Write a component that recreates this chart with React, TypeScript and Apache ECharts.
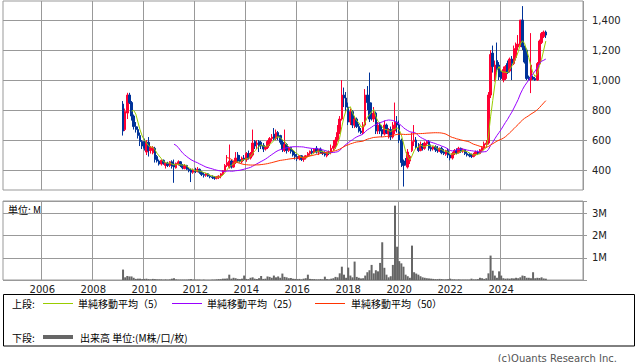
import React, { useEffect, useRef } from "react";
import * as echarts from "echarts";

// ---- axis frame ----
const START_YEAR = 2004;
const START_MONTH = 7; // first category: 2004/07
const MONTH_COUNT = 273; // through 2027/03
const DATA_OFFSET = 56; // first candle: 2009/03

const priceTicks = [400, 600, 800, 1000, 1200, 1400];
const volumeTicks = [1, 2, 3];
const yearLabels = [2006, 2008, 2010, 2012, 2014, 2016, 2018, 2020, 2022, 2024];

// ---- monthly OHLC (2009/03 .. 2025/10) ----
const opens = [
  840, 670, 780, 900, 850, 760, 690, 670, 630, 590,
  590, 520, 585, 530, 515, 545, 490, 460, 440, 465, 430, 445,
  430, 455, 440, 415, 440, 455, 430, 410, 430, 405, 400, 385,
  400, 390, 405, 385, 370, 365, 375, 360, 355, 350, 345, 350,
  360, 375, 395, 430, 420, 460, 420, 450, 500, 470, 455, 480,
  470, 510, 480, 500, 590, 570, 590, 585, 565, 540, 550, 580,
  610, 640, 610, 650, 630, 585, 530, 570, 530, 550, 530, 505,
  490, 475, 495, 470, 480, 495, 510, 525, 515, 545, 520, 540,
  520, 510, 495, 515, 515, 545, 560, 600, 650, 740, 900, 880,
  820, 720, 790, 700, 740, 690, 660, 650, 700, 900, 850, 760,
  740, 780, 660, 700, 670, 640, 700, 640, 670, 620, 660, 720,
  700, 600, 450, 460, 420, 460, 530, 590, 600, 550, 530, 570,
  545, 575, 590, 550, 540, 555, 540, 525, 545, 520, 505, 530,
  500, 480, 510, 530, 515, 545, 525, 535, 510, 505, 500, 490,
  505, 520, 510, 530, 545, 570, 580, 900, 1180, 1000, 1130, 1100,
  1060, 1000, 1010, 1110, 1060, 1140, 1110, 1150, 1220, 1230, 1400, 1220,
  1200, 1020, 1000, 1020, 1010, 1000, 1110, 1250, 1290, 1320,
];
const highs = [
  860, 810, 915, 915, 860, 770, 720, 690, 650, 600,
  610, 600, 620, 560, 560, 555, 500, 470, 470, 470, 450, 455,
  460, 465, 470, 450, 465, 460, 440, 440, 435, 415, 410, 410,
  415, 420, 410, 395, 385, 380, 380, 370, 365, 360, 360, 365,
  380, 400, 440, 500, 570, 470, 460, 520, 520, 500, 490, 500,
  520, 530, 520, 670, 600, 600, 600, 595, 580, 560, 600, 620,
  640, 680, 670, 660, 635, 600, 670, 580, 560, 555, 540, 520,
  510, 500, 500, 490, 500, 520, 530, 540, 545, 560, 540, 550,
  530, 525, 520, 530, 570, 600, 620, 700, 760, 1000, 950, 920,
  850, 810, 800, 760, 750, 710, 680, 720, 940, 960, 1050, 850,
  820, 790, 720, 720, 700, 730, 710, 680, 690, 720, 850, 760,
  730, 610, 470, 480, 540, 500, 650, 700, 620, 580, 590, 580,
  590, 600, 600, 570, 560, 565, 560, 550, 555, 540, 535, 545,
  510, 520, 540, 545, 555, 550, 545, 540, 525, 515, 510, 515,
  530, 530, 540, 560, 590, 600, 920, 1200, 1230, 1130, 1250, 1120,
  1070, 1090, 1100, 1130, 1150, 1160, 1230, 1250, 1300, 1400, 1493, 1230,
  1210, 1030, 1313, 1030, 1020, 1120, 1270, 1320, 1330, 1330,
];
const lows = [
  630, 660, 740, 840, 730, 670, 650, 610, 560, 540,
  530, 500, 490, 510, 505, 450, 450, 430, 430, 435, 410, 420,
  420, 410, 315, 410, 430, 420, 405, 405, 400, 385, 320, 375,
  380, 385, 375, 360, 350, 355, 355, 345, 340, 335, 338, 340,
  345, 365, 385, 420, 410, 410, 415, 440, 450, 450, 445, 460,
  455, 470, 470, 490, 540, 540, 520, 540, 520, 530, 540, 560,
  590, 600, 600, 600, 570, 520, 520, 510, 520, 510, 490, 470,
  460, 465, 460, 455, 470, 485, 495, 505, 510, 510, 500, 510,
  500, 490, 485, 500, 505, 530, 540, 590, 640, 730, 820, 790,
  700, 700, 680, 680, 680, 650, 640, 640, 690, 800, 720, 730,
  720, 640, 640, 640, 620, 630, 640, 610, 600, 610, 640, 650,
  580, 420, 290, 430, 410, 440, 520, 560, 540, 520, 525, 530,
  535, 560, 530, 525, 530, 520, 515, 520, 505, 500, 495, 480,
  465, 470, 500, 505, 510, 515, 515, 500, 490, 485, 480, 485,
  495, 500, 505, 520, 535, 550, 570, 880, 1050, 990, 1050, 1000,
  1000, 985, 1000, 1040, 1050, 1000, 1100, 1130, 1200, 1220, 1200, 1110,
  1000, 1000, 913, 1000, 995, 995, 1100, 1240, 1280, 1280,
];
const closes = [
  660, 790, 900, 850, 760, 690, 670, 630, 590, 560,
  545, 585, 530, 550, 550, 470, 460, 440, 465, 445, 445, 430,
  455, 425, 420, 445, 455, 430, 415, 430, 405, 395, 385, 400,
  390, 405, 385, 370, 365, 375, 360, 355, 350, 345, 355, 360,
  375, 395, 430, 450, 460, 420, 450, 480, 460, 455, 480, 470,
  510, 480, 510, 580, 560, 580, 560, 560, 540, 550, 590, 610,
  620, 610, 650, 620, 585, 540, 570, 530, 550, 525, 500, 490,
  475, 495, 470, 480, 495, 510, 525, 515, 540, 520, 530, 520,
  510, 500, 515, 510, 545, 560, 600, 650, 740, 900, 880, 820,
  720, 790, 700, 740, 690, 660, 650, 700, 900, 850, 740, 750,
  780, 660, 700, 660, 640, 700, 650, 670, 620, 700, 720, 700,
  600, 450, 430, 440, 520, 490, 590, 600, 550, 530, 570, 545,
  580, 590, 545, 540, 555, 535, 530, 545, 515, 510, 530, 500,
  480, 510, 530, 515, 545, 525, 535, 510, 500, 495, 490, 505,
  520, 510, 535, 550, 575, 580, 900, 1170, 1090, 1100, 1070, 1020,
  1010, 1070, 1090, 1050, 1140, 1110, 1210, 1240, 1240, 1400, 1220, 1120,
  1010, 1000, 1100, 1005, 1000, 1110, 1260, 1310, 1320, 1300,
];
// monthly volume, millions
const volumes = [
  0.47, 0.12, 0.18, 0.16, 0.16, 0.10, 0.05, 0.06, 0.06, 0.04,
  0.05, 0.06, 0.04, 0.03, 0.05, 0.04, 0.03, 0.03, 0.03, 0.02, 0.03, 0.02,
  0.03, 0.06, 0.08, 0.03, 0.02, 0.02, 0.02, 0.02, 0.02, 0.03, 0.04, 0.02,
  0.02, 0.02, 0.02, 0.01, 0.02, 0.01, 0.01, 0.01, 0.02, 0.02, 0.03, 0.04,
  0.04, 0.06, 0.06, 0.07, 0.24, 0.06, 0.10, 0.08, 0.05, 0.04, 0.06, 0.20,
  0.05, 0.04, 0.10, 0.12, 0.06, 0.05, 0.08, 0.18, 0.05, 0.06, 0.16, 0.14,
  0.10, 0.20, 0.12, 0.16, 0.10, 0.29, 0.14, 0.12, 0.08, 0.09, 0.06, 0.05,
  0.04, 0.05, 0.03, 0.06, 0.08, 0.24, 0.05, 0.04, 0.04, 0.03, 0.03, 0.04,
  0.03, 0.15, 0.04, 0.03, 0.06, 0.08, 0.14, 0.12, 0.30, 0.60, 0.24, 0.10,
  0.56, 0.20, 0.12, 0.83, 0.14, 0.10, 0.07, 0.08, 0.20, 0.35, 0.44, 0.68,
  0.30, 0.44, 0.39, 0.77, 1.70, 0.55, 0.24, 0.12, 0.17, 0.68, 3.35, 1.50,
  0.85, 0.75, 0.60, 0.24, 0.17, 0.10, 1.55, 0.35, 0.29, 0.24, 0.17, 0.12,
  0.10, 0.08, 0.07, 0.06, 0.05, 0.04, 0.04, 0.05, 0.04, 0.03, 0.03, 0.04,
  0.06, 0.03, 0.03, 0.02, 0.03, 0.02, 0.02, 0.02, 0.02, 0.02, 0.06, 0.03,
  0.03, 0.04, 0.10, 0.08, 0.05, 0.08, 0.30, 1.10, 0.42, 0.20, 0.10, 0.39,
  0.20, 0.08, 0.06, 0.07, 0.06, 0.08, 0.07, 0.10, 0.08, 0.12, 0.20, 0.18,
  0.10, 0.10, 0.08, 0.35, 0.08, 0.10, 0.09, 0.12, 0.07, 0.06,
];

const UP = "#ff0033";
const DOWN = "#003399";
const GRID = "#999999";
const NUM_FONT = '"DejaVu Sans", Verdana, sans-serif';
const CJK_FONT = '"Noto Sans CJK JP", sans-serif';

function buildMonths(): string[] {
  const out: string[] = [];
  for (let i = 0; i < MONTH_COUNT; i++) {
    const t = START_MONTH - 1 + i;
    const y = START_YEAR + Math.floor(t / 12);
    const m = (t % 12) + 1;
    out.push(`${y}/${String(m).padStart(2, "0")}`);
  }
  return out;
}

function isYearLine(_i: number, val: string): boolean {
  if (!val.endsWith("/01")) return false;
  return yearLabels.includes(Number(val.slice(0, 4)));
}

function sma(period: number): (number | null)[] {
  return closes.map((_, k) => {
    if (k < period - 1) return null;
    let s = 0;
    for (let j = k - period + 1; j <= k; j++) s += closes[j];
    return Math.round((s / period) * 10) / 10;
  });
}

export default function App() {
  const ref = useRef<HTMLDivElement>(null);

  useEffect(() => {
    if (!ref.current) return;
    const chart = echarts.init(ref.current, undefined, { renderer: "svg" });
    const months = buildMonths();
    const place = (arr: any[]) =>
      months.map((_, i) => {
        const k = i - DATA_OFFSET;
        if (k < 0 || k >= arr.length || arr[k] == null) return "-";
        return arr[k];
      });
    const ohlc = closes.map((c, k) => [opens[k], c, lows[k], highs[k]]);

    const maLine = (name: string, period: number, color: string) => ({
      name,
      type: "line",
      xAxisIndex: 0,
      yAxisIndex: 0,
      data: place(sma(period)),
      symbol: "none",
      showSymbol: false,
      connectNulls: false,
      lineStyle: { color, width: 1 },
      itemStyle: { color },
      silent: true,
      z: 3,
    });

    const legendText = (text: string, x: number, y: number) => ({
      type: "text",
      x,
      y,
      style: { text, font: `10px ${CJK_FONT}`, fill: "#000", verticalAlign: "middle" },
    });
    const legendLine = (x1: number, x2: number, y: number, color: string, w: number) => ({
      type: "line",
      shape: { x1, y1: y, x2, y2: y },
      style: { stroke: color, lineWidth: w },
    });

    chart.setOption({
      animation: false,
      backgroundColor: "#fff",
      grid: [
        { left: 3, right: 55, top: 1, height: 189, show: true, borderColor: GRID, borderWidth: 1 },
        { left: 3, right: 55, top: 201, height: 79, show: true, borderColor: GRID, borderWidth: 1 },
      ],
      xAxis: [
        {
          type: "category",
          gridIndex: 0,
          data: months,
          boundaryGap: true,
          axisLine: { show: false },
          axisTick: { show: false },
          axisLabel: { show: false },
          splitLine: { show: true, interval: isYearLine, lineStyle: { color: GRID, width: 1 } },
        },
        {
          type: "category",
          gridIndex: 1,
          data: months,
          boundaryGap: true,
          axisLine: { show: false },
          axisTick: { show: false },
          axisLabel: {
            show: true,
            interval: isYearLine,
            formatter: (v: string) => v.slice(0, 4),
            color: "#222",
            fontSize: 10,
            fontFamily: NUM_FONT,
            margin: 4,
          },
          splitLine: { show: true, interval: isYearLine, lineStyle: { color: GRID, width: 1 } },
        },
      ],
      yAxis: [
        {
          type: "value",
          gridIndex: 0,
          position: "right",
          min: 267,
          max: 1527,
          scale: true,
          axisLine: { show: false },
          axisTick: { show: true, length: 4, customValues: priceTicks, lineStyle: { color: GRID } },
          axisLabel: {
            customValues: priceTicks,
            formatter: (v: number) => v.toLocaleString("en-US"),
            color: "#222",
            fontSize: 10,
            fontFamily: NUM_FONT,
            margin: 9,
          },
          splitLine: { show: true, lineStyle: { color: GRID, width: 1 } },
        },
        {
          type: "value",
          gridIndex: 1,
          position: "right",
          min: 0,
          max: 3.56,
          interval: 1,
          axisLine: { show: false },
          axisTick: { show: true, length: 4, lineStyle: { color: GRID } },
          axisLabel: {
            formatter: (v: number) => (volumeTicks.includes(v) ? `${v}M` : ""),
            color: "#222",
            fontSize: 10,
            fontFamily: NUM_FONT,
            margin: 9,
          },
          splitLine: { show: true, lineStyle: { color: GRID, width: 1 } },
        },
      ],
      series: [
        {
          name: "price",
          type: "candlestick",
          xAxisIndex: 0,
          yAxisIndex: 0,
          data: place(ohlc),
          barWidth: 2,
          silent: true,
          itemStyle: { color: UP, color0: DOWN, borderColor: UP, borderColor0: DOWN, borderWidth: 1 },
          z: 2,
        },
        maLine("MA5", 5, "#99cc00"),
        maLine("MA25", 25, "#9900ff"),
        maLine("MA50", 50, "#ff3300"),
        {
          name: "volume",
          type: "bar",
          xAxisIndex: 1,
          yAxisIndex: 1,
          data: place(volumes),
          barWidth: 2,
          silent: true,
          itemStyle: { color: "#666666" },
        },
      ],
      graphic: [
        {
          type: "text",
          x: 8,
          y: 209,
          style: { text: "単位: M", font: `10px ${CJK_FONT}`, fill: "#000", verticalAlign: "middle" },
        },
        {
          type: "rect",
          shape: { x: 3.5, y: 294.5, width: 631, height: 51.5 },
          style: { fill: "transparent", stroke: "#000", lineWidth: 1 },
        },
        legendText("上段:", 12, 303),
        legendLine(43, 73, 303.5, "#99cc00", 1),
        legendText("単純移動平均（5）", 78, 303),
        legendLine(172, 202, 303.5, "#9900ff", 1),
        legendText("単純移動平均（25）", 207, 303),
        legendLine(315, 345, 303.5, "#ff3300", 1),
        legendText("単純移動平均（50）", 351, 303),
        legendText("下段:", 12, 337),
        legendLine(43, 73, 337, "#666666", 4),
        legendText("出来高 単位:(M株/口/枚)", 80, 337),
        {
          type: "text",
          x: 617,
          y: 358,
          style: {
            text: "(c)Quants Research Inc.",
            font: `10px ${NUM_FONT}`,
            fill: "#555",
            align: "right",
            verticalAlign: "middle",
          },
        },
      ],
    });
    return () => chart.dispose();
  }, []);

  return (
    <div
      ref={ref}
      style={{ position: "absolute", left: 0, top: 0, width: 638, height: 362 }}
    />
  );
}
